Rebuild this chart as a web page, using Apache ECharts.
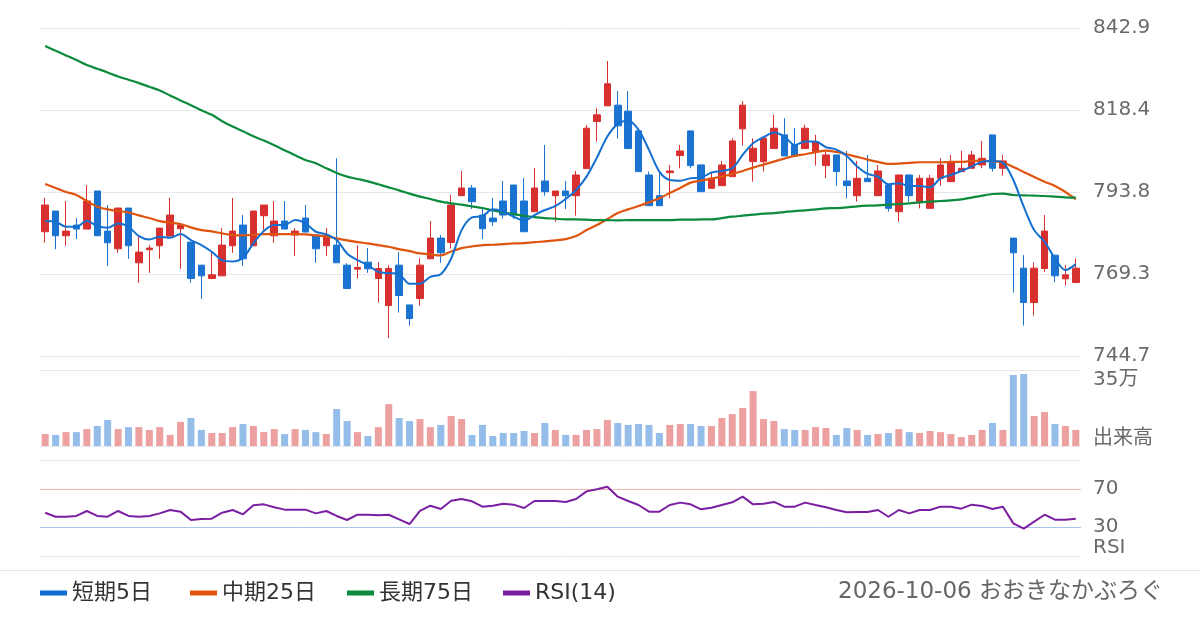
<!DOCTYPE html>
<html>
<head>
<meta charset="utf-8">
<script src="https://cdn.jsdelivr.net/npm/echarts@6/dist/echarts.min.js"></script>
<style>
html, body { margin: 0; padding: 0; background: #fff; }
#chart { width: 1200px; height: 630px; }
</style>
</head>
<body>
<div id="chart"></div>
<script>
// 日付（表示なし）: 2026-10-06 から遡る営業日
const days = [];
(function () {
    let d = new Date(2026, 9, 6);
    while (days.length < 100) {
        if (d.getDay() !== 0 && d.getDay() !== 6) {
            days.unshift((d.getMonth() + 1) + '/' + d.getDate());
        }
        d.setDate(d.getDate() - 1);
    }
})();

const open = [781.9, 788.1, 780.7, 783.9, 782.7, 794.1, 782.1, 776.8, 789.0, 772.6,
    776.5, 777.7, 780.6, 782.8, 778.8, 771.9, 767.9, 768.7, 777.7, 783.9,
    777.7, 786.7, 780.7, 785.1, 780.9, 786.0, 780.9, 777.7, 777.9, 771.9,
    770.7, 772.8, 767.9, 759.8, 771.9, 760.0, 761.9, 773.8, 780.0, 778.7,
    792.7, 795.0, 786.9, 786.0, 791.1, 795.9, 791.1, 787.9, 797.1, 792.7,
    794.1, 792.7, 800.8, 814.9, 819.6, 819.8, 818.0, 812.1, 798.9, 792.7,
    799.6, 804.7, 812.1, 801.9, 794.9, 795.7, 798.4, 812.7, 802.9, 802.9,
    806.8, 810.9, 807.9, 806.8, 805.9, 801.7, 804.9, 797.1, 792.7, 797.9,
    792.7, 795.9, 787.9, 798.9, 790.9, 788.9, 797.9, 796.9, 799.9, 800.9,
    801.9, 810.9, 800.9, 780.0, 771.0, 760.7, 770.9, 774.9, 767.8, 766.7];
const close = [789.9, 780.7, 782.1, 782.7, 791.1, 780.7, 778.6, 789.0, 777.7, 775.8,
    777.0, 783.0, 786.9, 783.9, 767.9, 768.7, 769.0, 777.9, 782.1, 773.8,
    788.1, 789.9, 785.1, 782.7, 782.1, 781.8, 776.8, 780.9, 772.6, 764.9,
    771.2, 770.8, 770.9, 770.9, 762.8, 755.9, 771.9, 780.0, 775.6, 789.9,
    795.0, 790.9, 782.8, 784.9, 786.9, 786.9, 781.9, 795.0, 793.9, 794.1,
    792.7, 798.9, 812.9, 816.9, 826.2, 813.6, 806.8, 799.9, 789.7, 789.7,
    800.1, 806.1, 801.7, 793.9, 797.9, 801.9, 809.1, 819.8, 806.9, 809.9,
    812.9, 804.6, 804.6, 812.9, 808.9, 804.9, 799.9, 795.7, 797.9, 796.9,
    800.1, 788.9, 798.9, 792.7, 797.9, 797.9, 801.9, 802.9, 800.9, 804.9,
    803.9, 800.9, 803.1, 775.6, 760.7, 771.0, 782.1, 768.7, 769.0, 771.0];
const low = [778.6, 776.7, 777.7, 779.7, 782.7, 780.7, 771.7, 775.6, 773.8, 766.6,
    769.6, 773.8, 780.6, 770.8, 766.6, 761.8, 767.9, 768.7, 775.6, 771.7,
    777.7, 782.4, 778.6, 782.7, 774.7, 781.8, 772.6, 774.7, 772.6, 764.9,
    767.9, 769.6, 760.7, 750.0, 757.7, 753.8, 759.8, 773.8, 772.6, 776.9,
    792.7, 788.7, 779.7, 783.7, 785.8, 785.8, 781.9, 787.9, 792.7, 784.9,
    788.7, 786.7, 800.8, 808.9, 819.6, 809.8, 806.8, 799.9, 789.7, 789.7,
    791.9, 800.9, 800.9, 793.9, 794.9, 795.7, 798.4, 807.7, 796.9, 799.9,
    806.8, 804.6, 804.6, 806.8, 801.7, 797.9, 795.7, 791.9, 790.9, 796.9,
    792.7, 787.9, 784.9, 790.9, 788.9, 788.9, 795.7, 796.9, 799.9, 800.9,
    800.9, 799.9, 798.7, 763.7, 753.8, 756.8, 769.8, 766.8, 765.8, 766.7];
const high = [792.1, 788.1, 791.1, 786.0, 795.9, 794.1, 789.9, 789.0, 789.0, 780.4,
    777.9, 783.0, 792.1, 783.9, 778.8, 771.9, 775.8, 783.0, 792.0, 786.9,
    788.1, 789.9, 791.1, 791.1, 783.0, 789.9, 780.9, 783.0, 803.9, 772.5,
    777.9, 777.0, 772.8, 771.9, 775.8, 760.0, 774.0, 785.1, 780.9, 792.9,
    800.1, 795.9, 788.9, 792.0, 797.1, 795.9, 798.0, 801.0, 807.9, 794.1,
    797.1, 800.1, 813.8, 818.9, 833.0, 824.0, 824.0, 812.1, 799.9, 799.9,
    801.9, 807.9, 812.1, 801.9, 799.9, 803.1, 809.9, 821.0, 809.9, 809.9,
    816.9, 815.9, 812.9, 813.9, 810.9, 805.9, 804.9, 806.1, 803.1, 804.9,
    801.9, 795.9, 798.9, 798.9, 798.9, 798.9, 803.9, 804.9, 806.1, 806.1,
    809.1, 810.9, 804.9, 780.0, 774.9, 772.7, 786.9, 774.9, 772.0, 773.9];

const ma5 = [785.1, 784.9, 783.4, 783.4, 785.2, 783.6, 783.1, 784.4, 783.4, 780.6,
    779.6, 780.4, 780.1, 781.2, 779.4, 777.9, 775.9, 773.4, 773.0, 774.1,
    778.4, 782.1, 783.9, 783.9, 785.4, 784.4, 781.9, 781.1, 779.4, 775.4,
    773.4, 771.9, 769.9, 769.5, 769.2, 766.3, 766.3, 768.4, 769.2, 773.9,
    782.4, 786.2, 786.6, 788.6, 787.9, 786.4, 785.2, 786.9, 788.4, 789.6,
    791.7, 794.4, 798.4, 804.1, 810.4, 814.2, 815.1, 812.4, 806.4, 799.9,
    797.4, 797.2, 797.9, 798.1, 799.6, 800.1, 800.9, 804.9, 808.4, 810.2,
    811.6, 810.4, 807.9, 808.9, 808.9, 807.2, 806.5, 804.6, 801.4, 799.2,
    798.4, 796.1, 796.4, 795.6, 795.6, 795.2, 797.9, 798.9, 800.1, 801.4,
    802.9, 803.1, 802.6, 797.4, 789.4, 782.4, 778.9, 773.9, 770.4, 772.2];
const ma25 = [796.2, 795.0, 793.8, 792.9, 791.1, 789.4, 788.6, 788.1, 787.7, 786.8,
    786.0, 785.1, 784.6, 784.2, 783.2, 782.4, 782.0, 781.4, 780.9, 780.8,
    781.0, 781.2, 781.2, 781.2, 781.2, 781.1, 780.8, 780.5, 779.9, 779.3,
    778.8, 778.4, 777.9, 777.4, 776.7, 776.1, 775.4, 775.1, 774.8, 776.0,
    777.0, 777.5, 777.9, 778.0, 778.2, 778.4, 778.5, 778.8, 779.0, 779.3,
    779.7, 780.6, 782.4, 783.9, 785.7, 787.5, 788.6, 789.6, 790.7, 791.9,
    793.5, 795.0, 796.6, 797.2, 797.8, 798.4, 799.2, 800.1, 801.1, 802.0,
    802.9, 803.8, 804.6, 805.1, 805.7, 806.2, 805.8, 805.1, 804.3, 803.5,
    802.8, 802.2, 802.3, 802.5, 802.7, 802.7, 802.7, 802.8, 802.8, 803.1,
    803.2, 803.0, 802.6, 801.3, 799.8, 798.3, 796.9, 795.6, 793.8, 791.6];
const ma75 = [837.5, 836.1, 834.7, 833.3, 831.8, 830.7, 829.6, 828.4, 827.4, 826.4,
    825.3, 824.2, 822.7, 821.2, 819.8, 818.3, 816.9, 815.0, 813.4, 812.0,
    810.5, 809.2, 807.8, 806.3, 804.8, 803.4, 802.4, 800.9, 799.5, 798.4,
    797.7, 797.0, 796.1, 795.2, 794.3, 793.3, 792.4, 791.7, 790.9, 790.4,
    790.0, 789.5, 789.0, 788.3, 787.7, 787.2, 786.7, 786.3, 786.0, 785.8,
    785.6, 785.6, 785.5, 785.4, 785.4, 785.3, 785.4, 785.4, 785.4, 785.4,
    785.4, 785.5, 785.5, 785.6, 785.6, 786.0, 786.4, 786.7, 787.0, 787.3,
    787.5, 787.8, 788.1, 788.3, 788.6, 788.9, 789.0, 789.2, 789.5, 789.7,
    789.8, 790.0, 790.2, 790.4, 790.7, 790.9, 791.1, 791.3, 791.6, 792.1,
    792.7, 793.2, 793.3, 792.9, 792.8, 792.7, 792.6, 792.4, 792.2, 792.1];

const volume = [55000, 51000, 64000, 64000, 78000, 92000, 120000, 78000, 87000, 87000,
    74000, 87000, 51000, 111000, 129000, 74000, 60000, 60000, 87000, 101000,
    92000, 64000, 78000, 55000, 78000, 74000, 64000, 55000, 170000, 115000,
    64000, 46000, 87000, 193000, 129000, 115000, 124000, 87000, 97000, 138000,
    124000, 51000, 97000, 46000, 60000, 60000, 69000, 60000, 106000, 74000,
    51000, 51000, 74000, 78000, 120000, 106000, 97000, 101000, 97000, 60000,
    97000, 101000, 101000, 92000, 92000, 129000, 147000, 175000, 253000, 124000,
    115000, 78000, 74000, 74000, 87000, 83000, 51000, 83000, 74000, 51000,
    55000, 60000, 78000, 64000, 60000, 69000, 64000, 55000, 41000, 51000,
    74000, 106000, 74000, 327000, 332000, 138000, 157000, 101000, 92000, 74000];

const rsi = [45.1, 40.9, 40.9, 41.7, 46.9, 41.7, 40.9, 46.9, 41.7, 40.9,
    41.7, 44.4, 47.9, 46.2, 37.5, 38.5, 38.9, 45.1, 47.9, 43.4,
    52.8, 53.8, 50.7, 48.3, 48.3, 48.3, 44.4, 46.9, 41.7, 37.5,
    43.0, 43.0, 42.4, 43.0, 38.2, 33.3, 46.9, 52.4, 49.0, 57.6,
    59.4, 57.0, 51.4, 52.4, 54.5, 53.5, 50.0, 57.3, 57.3, 57.3,
    56.3, 59.4, 67.3, 69.5, 72.2, 61.8, 57.3, 53.1, 46.2, 46.2,
    53.1, 55.6, 53.8, 48.6, 50.3, 53.1, 55.9, 61.8, 53.8, 54.5,
    56.3, 51.4, 51.4, 55.6, 53.1, 50.7, 47.9, 45.5, 45.8, 45.8,
    47.9, 40.9, 47.9, 44.4, 47.9, 47.9, 51.4, 51.4, 49.3, 53.5,
    52.1, 49.0, 51.4, 34.0, 28.5, 35.8, 43.0, 37.8, 37.8, 38.9];

const priceTicks = [744.7, 769.3, 793.8, 818.4, 842.9];
const volumeMax = 350000;
const volumeLabel = '35万';
const rsiLines = [30, 70];
const legendNames = ['短期5日', '中期25日', '長期75日', 'RSI(14)'];

const UP = '#d8302f';
const DOWN = '#1a73d1';
const UP_VOL = '#eda0a0';
const DOWN_VOL = '#95bde9';
const FONT = '"DejaVu Sans", "Noto Sans CJK JP", sans-serif';

let chart = echarts.init(document.querySelector('#chart'), null, { renderer: 'canvas' });

function draw() {
    const candles = days.map((d, i) => [open[i], close[i], low[i], high[i]]);
    const volBars = volume.map((v, i) => ({
        value: v,
        itemStyle: { color: close[i] >= open[i] ? UP_VOL : DOWN_VOL }
    }));

    // RSI軸の補助線: 0, 30, 70, 100 のみ表示
    const rsiLineColors = [];
    for (let v = 0; v <= 100; v += 10) {
        if (v === 30) rsiLineColors.push('#a9c5ea');
        else if (v === 70) rsiLineColors.push('#f3b3b3');
        else if (v === 0 || v === 100) rsiLineColors.push('#e6e6eb');
        else rsiLineColors.push('rgba(0,0,0,0)');
    }

    const xCommon = (gi) => ({
        type: 'category',
        gridIndex: gi,
        data: days,
        boundaryGap: true,
        axisLine: { show: false },
        axisTick: { show: false },
        axisLabel: { show: false },
        splitLine: { show: false }
    });

    const labelBase = { color: '#6a6a6a', fontSize: 20, fontFamily: FONT, margin: 12 };
    const richBase = { fontSize: 20, color: '#6a6a6a', fontFamily: FONT };

    // 凡例は項目ごとに配置
    const legendLeft = [40, 190, 347, 503];
    const legends = legendNames.map((n, i) => ({
        data: [n],
        left: legendLeft[i],
        top: 582,
        padding: 0,
        icon: 'rect',
        itemWidth: 27,
        itemHeight: 5,
        itemGap: 7,
        textStyle: { fontSize: 22, color: '#333', fontFamily: FONT }
    }));

    let option = {
        animation: false,
        textStyle: { fontFamily: FONT },
        grid: [
            { left: 40, right: 119, top: 28, height: 328 },
            { left: 40, right: 119, top: 370, height: 76 },
            { left: 40, right: 119, top: 460, height: 96 }
        ],
        xAxis: [xCommon(0), xCommon(1), xCommon(2)],
        yAxis: [
            {
                type: 'value', gridIndex: 0, position: 'right',
                min: 744.7, max: 842.9, interval: 24.55,
                axisLine: { show: false }, axisTick: { show: false },
                axisLabel: Object.assign({}, labelBase, {
                    formatter: (v) => {
                        let t = priceTicks.reduce((a, b) => Math.abs(b - v) < Math.abs(a - v) ? b : a);
                        return t.toFixed(1);
                    }
                }),
                splitLine: { lineStyle: { color: '#e6e6eb', width: 1 } }
            },
            {
                type: 'value', gridIndex: 1, position: 'right',
                min: 0, max: volumeMax, interval: volumeMax,
                axisLine: { show: false }, axisTick: { show: false },
                axisLabel: Object.assign({}, labelBase, {
                    formatter: (v) => v === 0 ? '{b|出来高}' : '{t|' + volumeLabel + '}',
                    rich: {
                        t: Object.assign({}, richBase, { padding: [20, 0, 0, 0] }),
                        b: Object.assign({}, richBase, { padding: [0, 0, 14, 0] })
                    }
                }),
                splitLine: { lineStyle: { color: '#e6e6eb', width: 1 } }
            },
            {
                type: 'value', gridIndex: 2, position: 'right',
                min: 0, max: 100, interval: 10,
                axisLine: { show: false }, axisTick: { show: false },
                axisLabel: Object.assign({}, labelBase, {
                    formatter: (v) => {
                        if (v === 0) return '{b|RSI}';
                        return rsiLines.indexOf(v) >= 0 ? String(v) : '';
                    },
                    rich: {
                        b: Object.assign({}, richBase, { padding: [0, 0, 16, 0] })
                    }
                }),
                splitLine: { lineStyle: { color: rsiLineColors, width: 1 } }
            }
        ],
        legend: legends,
        graphic: [
            {
                type: 'line',
                shape: { x1: 0, y1: 570.5, x2: 1200, y2: 570.5 },
                style: { stroke: '#e3e5ea', lineWidth: 1 }
            },
            {
                type: 'text',
                right: 37,
                top: 581,
                style: {
                    text: '2026-10-06 おおきなかぶろぐ',
                    fontSize: 23,
                    fill: '#666',
                    fontFamily: FONT
                }
            }
        ],
        series: [
            {
                name: '株価',
                type: 'candlestick',
                xAxisIndex: 0, yAxisIndex: 0,
                data: candles,
                barWidth: 7,
                itemStyle: {
                    color: UP, color0: DOWN,
                    borderColor: UP, borderColor0: DOWN,
                    borderWidth: 1
                }
            },
            {
                name: '中期25日', type: 'line', xAxisIndex: 0, yAxisIndex: 0,
                data: ma25, symbol: 'none', smooth: 0.3,
                lineStyle: { color: '#df540f', width: 2.2 }, itemStyle: { color: '#df540f' }
            },
            {
                name: '長期75日', type: 'line', xAxisIndex: 0, yAxisIndex: 0,
                data: ma75, symbol: 'none', smooth: 0.3,
                lineStyle: { color: '#0b8b3b', width: 2.2 }, itemStyle: { color: '#0b8b3b' }
            },
            {
                name: '短期5日', type: 'line', xAxisIndex: 0, yAxisIndex: 0,
                data: ma5, symbol: 'none', smooth: 0.3,
                lineStyle: { color: '#1470d0', width: 2 }, itemStyle: { color: '#0b6dd0' }
            },
            {
                name: '出来高', type: 'bar', xAxisIndex: 1, yAxisIndex: 1,
                data: volBars, barWidth: 7
            },
            {
                name: 'RSI(14)', type: 'line', xAxisIndex: 2, yAxisIndex: 2,
                data: rsi, symbol: 'none',
                lineStyle: { color: '#7b1fa2', width: 2 }, itemStyle: { color: '#7b1fa2' }
            }
        ]
    };
    chart.setOption(option);
}

draw();

window.onresize = function () {
    chart.resize();
};
</script>
</body>
</html>
